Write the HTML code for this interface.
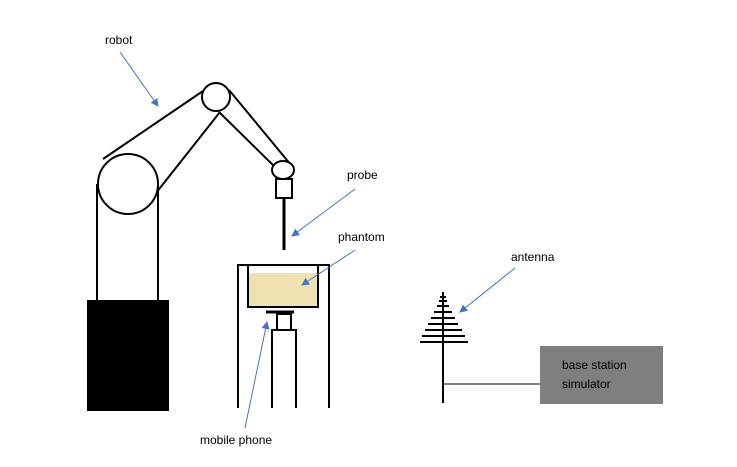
<!DOCTYPE html>
<html><head><style>body{margin:0;background:#fff}svg{display:block}text{font-family:"Liberation Sans",sans-serif;font-size:12px;fill:#000}</style></head>
<body>
<svg width="737" height="467" viewBox="0 0 737 467">
<defs><marker id="a" markerWidth="8" markerHeight="8" refX="7" refY="4" orient="auto" markerUnits="userSpaceOnUse"><path d="M0,0 L8,4 L0,8 Z" fill="#4472c4"/></marker></defs>
<g stroke="#000" stroke-width="2" fill="none">
<rect x="88" y="301" width="80" height="109" fill="#000"/>
<line x1="97" y1="184" x2="97" y2="301"/><line x1="158" y1="184" x2="158" y2="301"/>
<line x1="103" y1="159" x2="203" y2="91"/><line x1="156" y1="193" x2="220" y2="112"/>
<line x1="229" y1="90" x2="291" y2="165"/><line x1="219" y1="112" x2="276" y2="168"/>
<circle cx="128" cy="184" r="30" fill="#fff"/>
<circle cx="216" cy="97" r="14" fill="#fff"/>
<ellipse cx="283" cy="170" rx="11" ry="9" fill="#fff"/>
<rect x="276" y="179" width="16" height="19" fill="#fff"/>
<line x1="284" y1="198" x2="284" y2="250" stroke-width="3"/>
<polyline points="238,408 238,265 329,265 329,408"/>
<rect x="248" y="273" width="70" height="34" fill="#efe2ae" stroke="none"/>
<polyline points="248,265 248,307 318,307 318,265"/>
<line x1="266" y1="312" x2="294" y2="312" stroke-width="3"/>
<rect x="277" y="314" width="14" height="16"/>
<polyline points="272,408 272,330 296,330 296,408"/>
<line x1="443" y1="292" x2="443" y2="403"/>
<line x1="420" y1="342" x2="468" y2="342"/><line x1="422" y1="336" x2="465" y2="336"/>
<line x1="425" y1="330" x2="462" y2="330"/><line x1="428" y1="324" x2="458" y2="324"/>
<line x1="431" y1="318" x2="455" y2="318"/><line x1="434" y1="312" x2="452" y2="312"/>
<line x1="437" y1="306" x2="449" y2="306"/><line x1="439" y1="301" x2="447" y2="301"/>
<line x1="440" y1="297" x2="446" y2="297"/>
<line x1="443" y1="384" x2="540" y2="384" stroke-width="1"/>
</g>
<rect x="540" y="346" width="123" height="58" fill="#7f7f7f"/>
<g stroke="#4472c4" stroke-width="1" marker-end="url(#a)">
<line x1="120" y1="52" x2="158" y2="106"/>
<line x1="355" y1="189" x2="292" y2="236"/>
<line x1="355" y1="250" x2="302" y2="285"/>
<line x1="515" y1="268" x2="460" y2="312"/>
<line x1="245" y1="428" x2="267" y2="322"/>
</g>
<text x="105" y="44">robot</text>
<text x="347" y="179">probe</text>
<text x="338" y="241">phantom</text>
<text x="511" y="261">antenna</text>
<text x="200" y="444">mobile phone</text>
<text x="562" y="369">base station</text>
<text x="562" y="388">simulator</text>
</svg>
</body></html>
